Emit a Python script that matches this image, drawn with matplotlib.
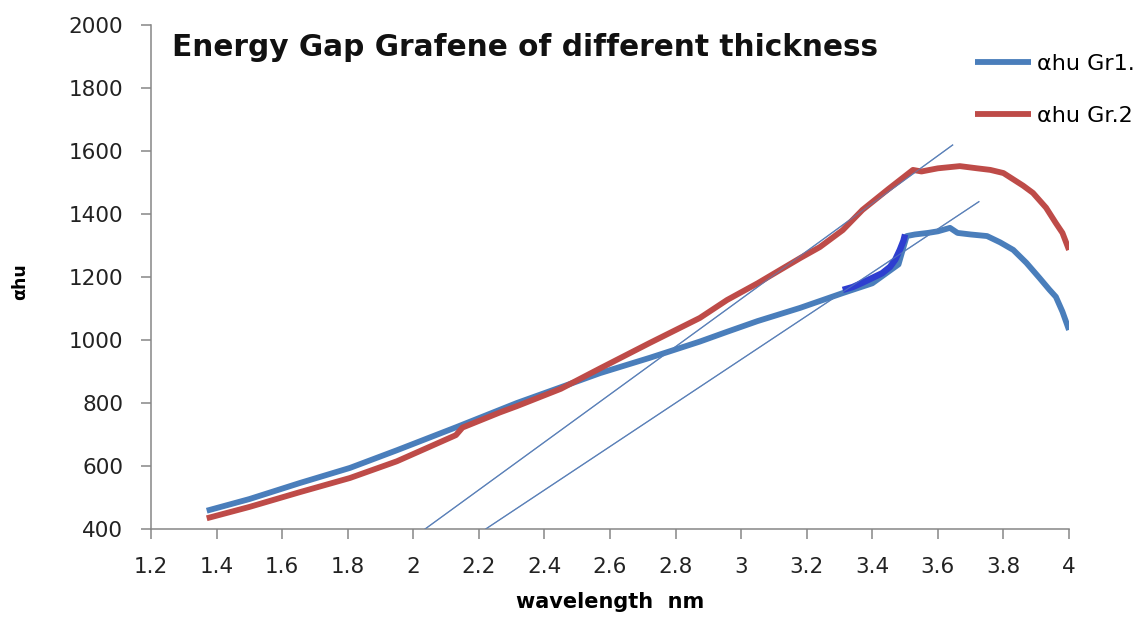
import matplotlib
matplotlib.use("Agg")
import matplotlib.pyplot as plt
from matplotlib.ticker import FuncFormatter, MultipleLocator

plt.rcParams['font.family'] = ['DejaVu Sans']

# Photon energy axis and alpha*h*nu values for the two samples
gr1_x = [1.37, 1.50, 1.654, 1.807, 1.95, 2.133, 2.316, 2.45, 2.57, 2.72, 2.874,
         2.957, 3.05, 3.18, 3.31, 3.40, 3.48, 3.505, 3.53, 3.57, 3.60, 3.637,
         3.66, 3.70, 3.75, 3.79, 3.83, 3.87, 3.91, 3.94, 3.96, 3.98, 4.00]
gr1_y = [458, 495, 546, 594, 650, 724, 800, 850, 895, 943, 995,
         1026, 1060, 1102, 1149, 1180, 1240, 1330, 1335, 1340, 1345, 1356,
         1340, 1335, 1330, 1310, 1286, 1245, 1197, 1160, 1137, 1090, 1032]

# Highlighted absorption-edge section of Gr1
edge_x = [3.31, 3.34, 3.37, 3.40, 3.43, 3.454, 3.47, 3.484, 3.495, 3.50]
edge_y = [1159, 1168, 1182, 1197, 1212, 1232, 1255, 1286, 1315, 1335]

gr2_x = [1.37, 1.50, 1.654, 1.807, 1.95, 2.13, 2.15, 2.264, 2.316, 2.45, 2.57,
         2.72, 2.874, 2.957, 3.05, 3.18, 3.24, 3.31, 3.37, 3.45, 3.524, 3.55,
         3.60, 3.667, 3.72, 3.76, 3.80, 3.83, 3.86, 3.89, 3.93, 3.96, 3.98, 4.00]
gr2_y = [434, 470, 517, 562, 615, 698, 722, 770, 790, 845, 910,
         990, 1070, 1127, 1180, 1260, 1295, 1349, 1413, 1480, 1540, 1535,
         1545, 1552, 1545, 1540, 1530, 1510, 1490, 1467, 1420, 1371, 1340, 1286]

# Linear extrapolations of the absorption edges
tangent1_x = [2.036, 3.645]
tangent1_y = [400, 1619]
tangent2_x = [2.221, 3.725]
tangent2_y = [400, 1439]

labels = ["\u03b1hu Gr1.", "\u03b1hu Gr.2"]

blue = "#4a7ebb"
red = "#be4b48"
dark_blue = "#2e3ed0"
line_blue = "#5a80b8"
axis_gray = "#868686"

fig = plt.figure(figsize=(11.47, 6.2), dpi=100)
ax = fig.add_axes([151 / 1147, 1 - 529 / 620, 918 / 1147, 504 / 620])

ax.plot(tangent1_x, tangent1_y, color=line_blue, lw=0.9, zorder=2)
ax.plot(tangent2_x, tangent2_y, color=line_blue, lw=0.9, zorder=2)
l1, = ax.plot(gr1_x, gr1_y, color=blue, lw=4.2, solid_capstyle='butt', zorder=3, label=labels[0])
l2, = ax.plot(gr2_x, gr2_y, color=red, lw=4.2, solid_capstyle='butt', zorder=3, label=labels[1])
ax.plot(edge_x, edge_y, color=dark_blue, lw=4.6, solid_capstyle='butt', zorder=4)
# tangents drawn again faintly over the curves
ax.plot(tangent1_x, tangent1_y, color=line_blue, lw=0.8, alpha=0.7, zorder=5)
ax.plot(tangent2_x, tangent2_y, color=line_blue, lw=0.8, alpha=0.7, zorder=5)

ax.set_xlim(1.2, 4.0)
ax.set_ylim(400, 2000)
ax.xaxis.set_major_locator(MultipleLocator(0.2))
ax.yaxis.set_major_locator(MultipleLocator(200))
ax.xaxis.set_major_formatter(FuncFormatter(lambda v, p: f"{v:.1f}".rstrip('0').rstrip('.')))
ax.yaxis.set_major_formatter(FuncFormatter(lambda v, p: f"{v:.0f}"))

for s in ("top", "right"):
    ax.spines[s].set_visible(False)
for s in ("left", "bottom"):
    ax.spines[s].set_color(axis_gray)
    ax.spines[s].set_linewidth(1.1)
ax.tick_params(axis='both', direction='out', length=7, width=1.1, color=axis_gray,
               labelsize=15.5, labelcolor="#222222", pad=13)

ax.set_xlabel("wavelength  nm", fontsize=15, fontweight='bold', labelpad=11)
fig.text(20 / 1147, 1 - 282 / 620, "\u03b1hu", rotation=90, fontsize=12.5,
         fontweight='bold', ha='center', va='center')

fig.text(172 / 1147, 1 - 47 / 620, "Energy Gap Grafene of different thickness",
         fontsize=21.3, fontweight='bold', ha='left', va='center', color="#111111")

fig.legend(handles=[l1, l2], loc='upper left',
           bbox_to_anchor=(975 / 1147, 1 - 54 / 620), frameon=False,
           fontsize=16, handlelength=2.5, handletextpad=0.3, labelspacing=1.45,
           borderaxespad=0, borderpad=0)

fig.savefig("out.png", dpi=100)
